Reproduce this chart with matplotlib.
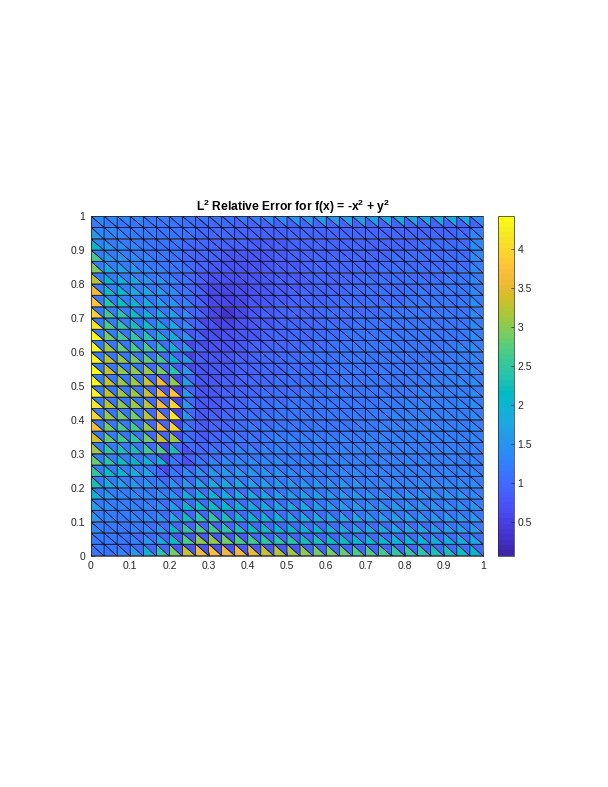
import numpy as np
import matplotlib
matplotlib.use('Agg')
import matplotlib.pyplot as plt
from matplotlib.colors import LinearSegmentedColormap

plt.rcParams['font.family'] = ['Liberation Sans', 'DejaVu Sans']
plt.rcParams['mathtext.default'] = 'regular'

# parula colours
parula_colors = [
    (0.2422, 0.1504, 0.6603), (0.2647, 0.1978, 0.7952), (0.2783, 0.2559, 0.8991),
    (0.2810, 0.3228, 0.9579), (0.2699, 0.3892, 0.9906), (0.2206, 0.4603, 0.9973),
    (0.1786, 0.5289, 0.9682), (0.1540, 0.5902, 0.9218), (0.1248, 0.6459, 0.8883),
    (0.0689, 0.6948, 0.8394), (0.0067, 0.7312, 0.7660), (0.1408, 0.7584, 0.6842),
    (0.2161, 0.7843, 0.5923), (0.3406, 0.8008, 0.4789), (0.5044, 0.7993, 0.3480),
    (0.6720, 0.7793, 0.2227), (0.8203, 0.7498, 0.1535), (0.9393, 0.7288, 0.2100),
    (0.9970, 0.7659, 0.2199), (0.9786, 0.8386, 0.1766), (0.9597, 0.9135, 0.1423),
    (0.9769, 0.9839, 0.0805),
]
parula = LinearSegmentedColormap.from_list('parula', parula_colors, N=64)

# error on the lower-left triangle of every cell, bottom row first
lower_err = [
    [1.1,1.1,1.3,1.6,2.0,2.4,2.9,3.3,3.6,3.7,3.6,3.6,3.5,3.3,3.2,3.1,3.0,2.9,2.9,2.8,2.7,2.7,2.6,2.5,2.5,2.4,2.3,2.3,2.2,2.1],
    [1.2,1.2,1.2,1.3,1.5,1.8,2.2,2.7,3.0,3.0,2.9,2.7,2.6,2.5,2.4,2.4,2.3,2.3,2.2,2.2,2.1,2.1,2.1,2.0,2.0,2.0,1.9,1.9,1.9,1.8],
    [1.3,1.2,1.2,1.3,1.4,1.6,2.1,2.5,2.6,2.6,2.4,2.3,2.2,2.2,2.1,2.1,2.0,2.0,2.0,1.9,1.9,1.9,1.9,1.8,1.8,1.8,1.7,1.7,1.7,1.7],
    [1.5,1.3,1.2,1.3,1.4,1.5,1.8,2.2,2.4,2.5,2.3,2.1,2.1,2.0,2.0,1.9,1.9,1.9,1.8,1.8,1.8,1.7,1.7,1.7,1.7,1.6,1.6,1.6,1.6,1.6],
    [1.7,1.4,1.3,1.3,1.4,1.5,1.7,2.1,2.2,2.2,2.1,2.0,1.9,1.9,1.8,1.8,1.8,1.7,1.7,1.7,1.7,1.6,1.6,1.6,1.6,1.6,1.5,1.5,1.5,1.5],
    [2.0,1.6,1.4,1.4,1.4,1.5,1.6,1.9,2.0,2.0,1.9,1.9,1.8,1.8,1.7,1.7,1.7,1.7,1.6,1.6,1.6,1.6,1.5,1.5,1.5,1.5,1.5,1.5,1.5,1.4],
    [2.3,1.9,1.7,1.6,1.5,1.4,1.5,1.6,1.8,1.9,1.8,1.8,1.7,1.7,1.6,1.6,1.5,1.5,1.5,1.5,1.5,1.4,1.4,1.4,1.4,1.4,1.4,1.4,1.4,1.4],
    [2.5,2.2,2.0,1.9,1.8,1.0,1.2,1.4,1.5,1.6,1.6,1.6,1.5,1.5,1.5,1.4,1.4,1.4,1.4,1.4,1.4,1.3,1.3,1.3,1.3,1.3,1.3,1.3,1.3,1.3],
    [2.8,2.4,2.2,2.1,2.0,2.0,1.2,0.7,1.2,1.3,1.4,1.4,1.4,1.4,1.4,1.3,1.3,1.3,1.3,1.3,1.3,1.3,1.3,1.3,1.3,1.3,1.3,1.3,1.3,1.3],
    [3.1,2.5,2.3,2.3,2.6,2.7,2.3,0.7,1.0,1.2,1.2,1.3,1.3,1.3,1.3,1.3,1.3,1.3,1.3,1.3,1.3,1.3,1.3,1.3,1.3,1.3,1.3,1.3,1.3,1.3],
    [3.4,2.8,2.6,2.5,2.9,3.3,3.1,1.2,0.9,1.0,1.1,1.2,1.2,1.2,1.3,1.3,1.3,1.3,1.3,1.3,1.2,1.3,1.3,1.3,1.3,1.3,1.3,1.3,1.3,1.4],
    [3.7,2.9,2.7,2.7,3.1,3.7,4.0,1.3,0.9,0.9,1.0,1.1,1.2,1.2,1.2,1.2,1.2,1.2,1.2,1.2,1.2,1.2,1.3,1.3,1.3,1.3,1.3,1.3,1.3,1.4],
    [4.0,3.1,2.9,2.9,3.2,3.7,4.2,1.5,0.8,0.9,1.0,1.1,1.1,1.2,1.2,1.2,1.2,1.2,1.2,1.2,1.2,1.2,1.2,1.3,1.3,1.3,1.3,1.3,1.3,1.4],
    [4.2,3.2,3.0,3.1,3.2,3.7,4.0,1.5,0.8,0.8,0.9,1.0,1.1,1.1,1.2,1.2,1.2,1.2,1.2,1.2,1.2,1.2,1.2,1.2,1.3,1.3,1.3,1.3,1.3,1.4],
    [4.3,3.3,3.1,3.1,3.3,3.7,3.8,1.6,0.8,0.8,0.9,1.0,1.0,1.1,1.1,1.1,1.2,1.2,1.2,1.2,1.2,1.2,1.2,1.2,1.2,1.3,1.3,1.3,1.3,1.4],
    [4.4,3.3,3.1,3.1,3.3,3.6,3.0,1.7,0.8,0.8,0.9,0.9,1.0,1.0,1.1,1.1,1.1,1.1,1.2,1.2,1.2,1.2,1.2,1.2,1.2,1.2,1.3,1.3,1.3,1.4],
    [4.4,3.3,3.0,3.0,3.1,2.9,2.4,1.5,0.8,0.8,0.8,0.9,0.9,1.0,1.0,1.1,1.1,1.1,1.1,1.2,1.2,1.2,1.2,1.2,1.2,1.2,1.2,1.3,1.3,1.4],
    [4.4,3.2,3.0,2.9,2.8,2.6,2.1,1.6,0.9,0.8,0.8,0.9,0.9,1.0,1.0,1.1,1.1,1.1,1.1,1.2,1.2,1.2,1.2,1.2,1.2,1.2,1.2,1.2,1.3,1.4],
    [4.4,3.1,2.8,2.7,2.7,2.4,2.0,1.6,0.9,0.7,0.7,0.8,0.9,0.9,1.0,1.0,1.1,1.1,1.1,1.1,1.2,1.2,1.2,1.2,1.2,1.2,1.2,1.2,1.3,1.4],
    [4.4,2.9,2.6,2.5,2.4,2.2,1.9,1.5,1.0,0.7,0.7,0.8,0.8,0.9,1.0,1.0,1.0,1.1,1.1,1.1,1.1,1.2,1.2,1.2,1.2,1.2,1.2,1.2,1.2,1.4],
    [4.2,2.7,2.5,2.3,2.2,2.0,1.8,1.4,1.0,0.7,0.6,0.7,0.8,0.9,0.9,1.0,1.0,1.0,1.1,1.1,1.1,1.1,1.2,1.2,1.2,1.2,1.2,1.2,1.2,1.4],
    [3.9,2.6,2.4,2.2,2.0,1.9,1.7,1.4,1.0,0.6,0.3,0.6,0.8,0.9,0.9,1.0,1.0,1.0,1.1,1.1,1.1,1.1,1.1,1.2,1.2,1.2,1.2,1.2,1.2,1.4],
    [3.8,2.4,2.2,2.0,1.9,1.7,1.5,1.3,0.9,0.6,0.6,0.6,0.8,0.8,0.9,0.9,1.0,1.0,1.0,1.1,1.1,1.1,1.1,1.1,1.2,1.2,1.2,1.2,1.2,1.4],
    [3.6,2.2,2.1,1.9,1.8,1.6,1.4,1.2,0.9,0.6,0.6,0.7,0.7,0.8,0.9,0.9,1.0,1.0,1.0,1.0,1.1,1.1,1.1,1.1,1.1,1.2,1.2,1.2,1.2,1.4],
    [3.2,2.1,1.9,1.8,1.6,1.5,1.3,1.1,0.9,0.7,0.7,0.7,0.8,0.8,0.9,0.9,0.9,1.0,1.0,1.0,1.0,1.1,1.1,1.1,1.1,1.1,1.1,1.2,1.2,1.4],
    [2.9,1.9,1.7,1.5,1.4,1.3,1.2,1.1,0.9,0.8,0.8,0.8,0.8,0.8,0.9,0.9,0.9,1.0,1.0,1.0,1.0,1.0,1.1,1.1,1.1,1.1,1.1,1.1,1.2,1.4],
    [2.6,1.6,1.5,1.4,1.3,1.2,1.1,1.0,0.9,0.9,0.8,0.8,0.8,0.8,0.9,0.9,0.9,1.0,1.0,1.0,1.0,1.0,1.0,1.1,1.1,1.1,1.1,1.1,1.1,1.4],
    [2.1,1.5,1.4,1.3,1.2,1.1,1.1,1.0,1.0,0.9,0.9,0.9,0.9,0.9,0.9,0.9,1.0,1.0,1.0,1.0,1.0,1.0,1.0,1.0,1.0,1.1,1.1,1.1,1.1,1.4],
    [1.6,1.3,1.3,1.2,1.2,1.1,1.1,1.1,1.0,1.0,1.0,0.9,0.9,0.9,0.9,1.0,1.0,1.0,1.0,1.0,1.0,1.0,1.0,1.0,1.0,1.0,1.0,1.0,1.1,1.3],
    [1.2,1.2,1.1,1.1,1.1,1.1,1.1,1.1,1.0,1.0,1.0,0.9,0.9,0.9,0.9,0.9,0.9,0.9,0.9,0.9,0.9,0.9,0.9,0.9,0.9,0.9,0.9,0.9,0.9,0.9],
]

# error on the upper-right triangle of every cell, bottom row first
upper_err = [
    [1.2,1.1,1.0,1.0,0.9,0.9,0.8,0.8,0.7,0.7,0.7,0.8,0.8,0.8,0.8,0.8,0.9,0.9,0.9,0.9,0.9,0.9,0.9,0.9,0.9,0.9,1.0,1.0,1.0,1.0],
    [1.2,1.2,1.1,1.0,1.0,0.9,0.8,0.8,0.8,0.8,0.8,0.8,0.9,0.9,0.9,0.9,0.9,0.9,0.9,1.0,1.0,1.0,1.0,1.0,1.0,1.0,1.0,1.0,1.0,1.0],
    [1.2,1.2,1.1,1.1,1.0,1.0,0.9,0.9,0.9,0.9,0.9,0.9,0.9,0.9,0.9,1.0,1.0,1.0,1.0,1.0,1.0,1.0,1.0,1.0,1.0,1.0,1.0,1.1,1.1,1.1],
    [1.2,1.2,1.2,1.1,1.1,1.0,1.0,0.9,0.9,0.9,0.9,0.9,1.0,1.0,1.0,1.0,1.0,1.0,1.0,1.0,1.1,1.1,1.1,1.1,1.1,1.1,1.1,1.1,1.1,1.1],
    [1.2,1.2,1.2,1.1,1.1,1.0,1.0,1.0,1.0,1.0,1.0,1.0,1.0,1.0,1.0,1.0,1.0,1.1,1.1,1.1,1.1,1.1,1.1,1.1,1.1,1.1,1.1,1.1,1.1,1.2],
    [1.2,1.2,1.2,1.2,1.1,1.1,1.0,1.0,1.0,1.0,1.0,1.0,1.0,1.0,1.1,1.1,1.1,1.1,1.1,1.1,1.1,1.1,1.1,1.1,1.1,1.2,1.2,1.2,1.2,1.2],
    [1.2,1.2,1.2,1.2,1.1,0.9,1.0,1.0,1.0,1.1,1.1,1.1,1.1,1.1,1.1,1.1,1.1,1.1,1.1,1.1,1.1,1.2,1.2,1.2,1.2,1.2,1.2,1.2,1.2,1.2],
    [1.2,1.2,1.2,1.2,1.1,0.6,0.9,1.0,1.0,1.1,1.1,1.1,1.1,1.1,1.1,1.1,1.1,1.1,1.1,1.2,1.2,1.2,1.2,1.2,1.2,1.2,1.2,1.2,1.2,1.2],
    [1.2,1.2,1.2,1.1,1.1,0.6,0.9,0.9,1.0,1.0,1.1,1.1,1.1,1.1,1.1,1.1,1.1,1.2,1.2,1.2,1.2,1.2,1.2,1.2,1.2,1.2,1.2,1.2,1.2,1.2],
    [1.2,1.2,1.2,1.1,1.0,0.6,0.9,1.0,0.9,1.0,1.0,1.0,1.0,1.1,1.1,1.1,1.1,1.1,1.1,1.2,1.2,1.2,1.2,1.2,1.2,1.2,1.2,1.2,1.2,1.2],
    [1.2,1.2,1.1,1.1,1.0,0.9,0.7,1.0,0.8,0.9,1.0,1.0,1.0,1.1,1.1,1.1,1.1,1.1,1.1,1.2,1.2,1.2,1.2,1.2,1.2,1.2,1.2,1.2,1.2,1.2],
    [1.2,1.1,1.1,1.1,1.0,0.9,0.6,1.0,0.8,0.9,0.9,1.0,1.0,1.0,1.1,1.1,1.1,1.1,1.1,1.1,1.2,1.2,1.2,1.2,1.2,1.2,1.2,1.2,1.2,1.2],
    [1.2,1.1,1.1,1.1,1.0,0.9,0.5,1.0,0.8,0.8,0.9,1.0,1.0,1.0,1.1,1.1,1.1,1.1,1.1,1.1,1.1,1.2,1.2,1.2,1.2,1.2,1.2,1.2,1.2,1.2],
    [1.2,1.1,1.1,1.1,1.0,0.9,0.5,1.0,0.8,0.8,0.9,0.9,1.0,1.0,1.0,1.1,1.1,1.1,1.1,1.1,1.1,1.1,1.2,1.2,1.2,1.2,1.2,1.2,1.2,1.2],
    [1.2,1.1,1.1,1.1,1.0,0.8,0.5,0.9,0.7,0.8,0.8,0.9,0.9,1.0,1.0,1.0,1.1,1.1,1.1,1.1,1.1,1.1,1.1,1.2,1.2,1.2,1.2,1.2,1.2,1.2],
    [1.2,1.1,1.1,1.1,1.0,0.8,0.6,0.9,0.7,0.7,0.8,0.9,0.9,0.9,1.0,1.0,1.0,1.1,1.1,1.1,1.1,1.1,1.1,1.1,1.2,1.2,1.2,1.2,1.2,1.2],
    [1.2,1.1,1.1,1.1,1.0,0.9,0.8,0.6,0.7,0.8,0.8,0.9,0.9,1.0,1.0,1.0,1.0,1.1,1.1,1.1,1.1,1.1,1.1,1.1,1.1,1.2,1.2,1.2,1.2,1.2],
    [1.2,1.1,1.1,1.1,1.1,1.0,0.9,0.5,0.7,0.7,0.8,0.8,0.9,1.0,1.0,1.0,1.1,1.1,1.1,1.1,1.1,1.1,1.1,1.1,1.1,1.1,1.2,1.2,1.2,1.2],
    [1.2,1.1,1.1,1.1,1.1,1.0,1.0,0.6,0.6,0.7,0.7,0.8,0.9,0.9,0.9,1.0,1.0,1.0,1.1,1.1,1.1,1.1,1.1,1.1,1.1,1.1,1.1,1.2,1.2,1.2],
    [1.2,1.2,1.1,1.1,1.1,1.1,1.0,0.8,0.6,0.6,0.7,0.8,0.8,0.9,0.9,1.0,1.0,1.0,1.0,1.1,1.1,1.1,1.1,1.1,1.1,1.1,1.1,1.1,1.2,1.2],
    [1.2,1.2,1.2,1.1,1.1,1.1,1.0,0.9,0.6,0.5,0.5,0.7,0.8,0.8,0.9,0.9,1.0,1.0,1.0,1.0,1.1,1.1,1.1,1.1,1.1,1.1,1.1,1.1,1.1,1.2],
    [1.2,1.2,1.2,1.1,1.1,1.1,1.0,0.9,0.7,0.5,0.4,0.6,0.7,0.8,0.9,0.9,0.9,1.0,1.0,1.0,1.0,1.0,1.1,1.1,1.1,1.1,1.1,1.1,1.1,1.2],
    [1.2,1.2,1.2,1.1,1.1,1.1,1.0,0.9,0.7,0.6,0.5,0.6,0.7,0.8,0.8,0.9,0.9,0.9,1.0,1.0,1.0,1.0,1.0,1.0,1.1,1.1,1.1,1.1,1.1,1.2],
    [1.2,1.2,1.2,1.2,1.1,1.1,1.0,0.9,0.7,0.6,0.6,0.6,0.7,0.8,0.8,0.8,0.9,0.9,0.9,1.0,1.0,1.0,1.0,1.0,1.0,1.0,1.1,1.1,1.1,1.2],
    [1.2,1.2,1.2,1.2,1.1,1.1,1.0,0.9,0.8,0.7,0.7,0.7,0.7,0.8,0.8,0.8,0.9,0.9,0.9,0.9,1.0,1.0,1.0,1.0,1.0,1.0,1.0,1.1,1.1,1.2],
    [1.2,1.2,1.2,1.2,1.1,1.1,1.1,1.0,0.9,0.8,0.7,0.7,0.7,0.8,0.8,0.8,0.9,0.9,0.9,0.9,0.9,0.9,1.0,1.0,1.0,1.0,1.0,1.0,1.0,1.2],
    [1.2,1.2,1.2,1.2,1.1,1.1,1.1,1.0,1.0,0.9,0.8,0.8,0.8,0.8,0.8,0.9,0.9,0.9,0.9,0.9,0.9,0.9,0.9,0.9,1.0,1.0,1.0,1.0,1.0,1.3],
    [1.3,1.2,1.2,1.2,1.1,1.1,1.1,1.0,1.0,0.9,0.9,0.9,0.8,0.8,0.8,0.9,0.9,0.9,0.9,0.9,0.9,0.9,0.9,0.9,0.9,1.0,1.0,1.0,1.0,1.3],
    [1.3,1.3,1.2,1.2,1.2,1.1,1.1,1.1,1.0,1.0,1.0,0.9,0.9,0.9,0.9,0.9,0.9,0.9,0.9,0.9,0.9,0.9,0.9,0.9,0.9,0.9,0.9,0.9,0.9,1.2],
    [1.4,1.3,1.3,1.3,1.2,1.2,1.2,1.1,1.1,1.1,1.1,1.2,1.2,1.3,1.4,1.5,1.5,1.6,1.6,1.7,1.7,1.7,1.8,1.8,1.8,1.8,1.8,1.8,1.8,1.4],
]

x_ticks = [0, 0.1, 0.2, 0.3, 0.4, 0.5, 0.6, 0.7, 0.8, 0.9, 1]
x_tick_labels = ['0', '0.1', '0.2', '0.3', '0.4', '0.5', '0.6', '0.7', '0.8', '0.9', '1']
cbar_ticks = [0.5, 1, 1.5, 2, 2.5, 3, 3.5, 4]
cbar_tick_labels = ['0.5', '1', '1.5', '2', '2.5', '3', '3.5', '4']
err_min = 0.07
err_max = 4.42

lower = np.array(lower_err)
upper = np.array(upper_err)
ny, nx = lower.shape

# mesh nodes and the two triangles of each cell
xs, ys = np.meshgrid(np.linspace(0, 1, nx + 1), np.linspace(0, 1, ny + 1))
triangles = []
values = []
for j in range(ny):
    for i in range(nx):
        bl = j * (nx + 1) + i
        br = bl + 1
        tl = bl + nx + 1
        tr = tl + 1
        triangles.append([bl, br, tl])
        values.append(lower[j, i])
        triangles.append([br, tr, tl])
        values.append(upper[j, i])

W, H = 608, 787
fig = plt.figure(figsize=(W / 100, H / 100), dpi=100)
ax = fig.add_axes([91 / W, 1 - 555.5 / H, 392 / W, 339.5 / H])

mesh = ax.tripcolor(xs.ravel(), ys.ravel(), np.array(triangles), facecolors=np.array(values),
                    cmap=parula, vmin=err_min, vmax=err_max, edgecolors='#000018', linewidth=0.45)
ax.set_xlim(0, 1)
ax.set_ylim(0, 1)
ax.set_xticks(x_ticks)
ax.set_xticklabels(x_tick_labels)
ax.set_yticks(x_ticks)
ax.set_yticklabels(x_tick_labels)
ax.tick_params(direction='in', length=3, width=0.5, labelsize=7.5, colors='#262626', pad=4)
for spine in ax.spines.values():
    spine.set_linewidth(0.5)
    spine.set_color('#262626')

ax.set_title(r'L$^{2}$ Relative Error for f(x) = -x$^{2}$ + y$^{2}$', fontsize=8.7,
             fontweight='bold', pad=2.5, x=0.515)

cax = fig.add_axes([498 / W, 1 - 555.5 / H, 16 / W, 339.5 / H])
cbar = fig.colorbar(mesh, cax=cax)
cbar.set_ticks(cbar_ticks)
cbar.set_ticklabels(cbar_tick_labels)
cbar.ax.tick_params(direction='in', length=2.5, width=0.5, labelsize=7.5, colors='#262626', pad=2.5)
cbar.outline.set_linewidth(0.5)
cbar.outline.set_edgecolor('#262626')

fig.savefig('out.png', dpi=100)
